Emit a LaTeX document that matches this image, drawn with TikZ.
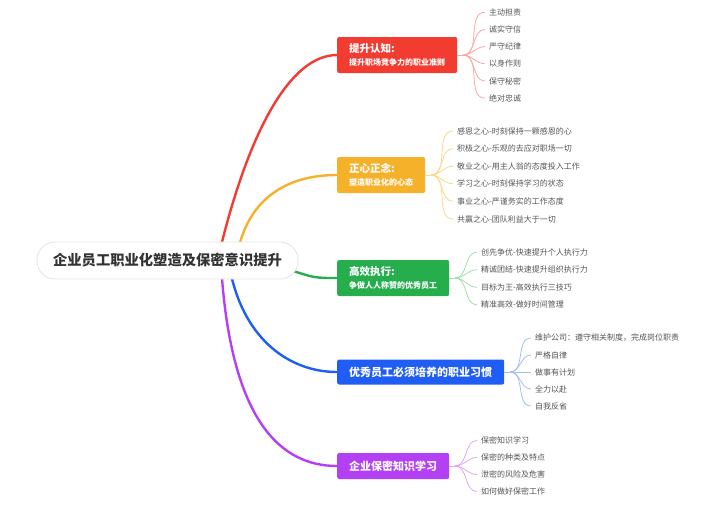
\documentclass[tikz,border=0pt]{standalone}
\usepackage{fontspec}
\setmainfont{Noto Sans CJK SC}
\usetikzlibrary{calc}

\definecolor{redtop}{HTML}{F23B31}
\definecolor{redleaf}{HTML}{F9A8A2}
\definecolor{orangetop}{HTML}{F5B12A}
\definecolor{orangeleaf}{HTML}{FAD98C}
\definecolor{greentop}{HTML}{26AD4C}
\definecolor{greenleaf}{HTML}{A2DDB0}
\definecolor{bluetop}{HTML}{1F5DF4}
\definecolor{blueleaf}{HTML}{A3BDF8}
\definecolor{purpletop}{HTML}{B440F3}
\definecolor{purpleleaf}{HTML}{DDA6F9}
\definecolor{rootline}{HTML}{E4E4E4}
\definecolor{rootfont}{HTML}{333333}
\definecolor{leaffont}{HTML}{555555}

\begin{document}
\begin{tikzpicture}[x=1pt,y=-1pt,
	rootbox/.style={draw=rootline, fill=white, line width=0.8pt, rounded corners=18pt, minimum width=261pt, minimum height=37pt, inner sep=0pt, text=rootfont, font=\fontsize{14.3}{16}\selectfont\bfseries},
	topic/.style={anchor=west, fill=#1, rounded corners=2pt, text=white, align=left, inner xsep=11pt, inner ysep=0pt},
	leaf/.style={anchor=west, inner xsep=4pt, inner ysep=1pt, text=leaffont, font=\fontsize{8}{10}\selectfont},
	mainline/.style={draw=#1, line width=2.4pt},
	leafline/.style={draw=#1, line width=0.8pt}]

		\useasboundingbox (0,0) rectangle (722,514);

		% topics
		\node [topic=redtop, minimum width=120pt, minimum height=36pt] (A) at (337,55) {{\fontsize{10.5}{12}\selectfont\bfseries 提升认知:}\\[1pt]{\fontsize{8}{10}\selectfont\bfseries 提升职场竞争力的职业准则}};
		\node [topic=orangetop, minimum width=88pt, minimum height=36pt] (B) at (337,175) {{\fontsize{10.5}{12}\selectfont\bfseries 正心正念:}\\[1pt]{\fontsize{8}{10}\selectfont\bfseries 塑造职业化的心态}};
		\node [topic=greentop, minimum width=112pt, minimum height=36pt] (C) at (337,278) {{\fontsize{10.5}{12}\selectfont\bfseries 高效执行:}\\[1pt]{\fontsize{8}{10}\selectfont\bfseries 争做人人称赞的优秀员工}};
		\node [topic=bluetop, minimum width=167pt, minimum height=25pt, font=\fontsize{11}{13}\selectfont\bfseries] (D) at (337,372) {优秀员工必须培养的职业习惯};
		\node [topic=purpletop, minimum width=112pt, minimum height=26pt, font=\fontsize{11}{13}\selectfont\bfseries] (E) at (337,466) {企业保密知识学习};

		\coordinate (JA) at (463,55);
		\coordinate (JB) at (431,175);
		\coordinate (JC) at (455,278);
		\coordinate (JD) at (510,372);
		\coordinate (JE) at (455,466);

		% leaves
		\node [leaf] (A1) at (485,12.2) {主动担责};
		\node [leaf] (A2) at (485,29.4) {诚实守信};
		\node [leaf] (A3) at (485,46.6) {严守纪律};
		\node [leaf] (A4) at (485,63.8) {以身作则};
		\node [leaf] (A5) at (485,81) {保守秘密};
		\node [leaf] (A6) at (485,98.2) {绝对忠诚};

		\node [leaf] (B1) at (453,131) {感恩之心-时刻保持一颗感恩的心};
		\node [leaf] (B2) at (453,148.6) {积极之心-乐观的去应对职场一切};
		\node [leaf] (B3) at (453,166.2) {敬业之心-用主人翁的态度投入工作};
		\node [leaf] (B4) at (453,183.8) {学习之心-时刻保持学习的状态};
		\node [leaf] (B5) at (453,201.4) {事业之心-严谨务实的工作态度};
		\node [leaf] (B6) at (453,219) {共赢之心-团队利益大于一切};

		\node [leaf] (C1) at (477,252.1) {创先争优-快速提升个人执行力};
		\node [leaf] (C2) at (477,269.7) {精诚团结-快速提升组织执行力};
		\node [leaf] (C3) at (477,287.3) {目标为王-高效执行三技巧};
		\node [leaf] (C4) at (477,304.9) {精准高效-做好时间管理};

		\node [leaf] (D1) at (531,338) {维护公司：遵守相关制度，完成岗位职责};
		\node [leaf] (D2) at (531,355) {严格自律};
		\node [leaf] (D3) at (531,372) {做事有计划};
		\node [leaf] (D4) at (531,389) {全力以赴};
		\node [leaf] (D5) at (531,406) {自我反省};

		\node [leaf] (E1) at (477,440.5) {保密知识学习};
		\node [leaf] (E2) at (477,457.5) {保密的种类及特点};
		\node [leaf] (E3) at (477,474.5) {泄密的风险及危害};
		\node [leaf] (E4) at (477,491.5) {如何做好保密工作};

		% main branches
		\draw [mainline=redtop] (220.5,248) .. controls (249,132) and (290,55) .. (A.west);
		\draw [mainline=orangetop] (238.6,248) .. controls (250,200) and (285,175) .. (B.west);
		\draw [mainline=greentop] (290,270) .. controls (315,278) .. (C.west);
		\draw [mainline=bluetop] (230.7,273) .. controls (245,340) and (290,372) .. (D.west);
		\draw [mainline=purpletop] (221.6,273) .. controls (232,420) and (280,466) .. (E.west);

		\node [rootbox] (O) at (167.5,260.5) {企业员工职业化塑造及保密意识提升};

		% leaf branches
		\draw [leafline=redleaf] (A.east) -- (JA);
		\draw [leafline=redleaf] (JA) to[out=0,in=180] (A1.west);
		\draw [leafline=redleaf] (JA) to[out=0,in=180] (A2.west);
		\draw [leafline=redleaf] (JA) to[out=0,in=180] (A3.west);
		\draw [leafline=redleaf] (JA) to[out=0,in=180] (A4.west);
		\draw [leafline=redleaf] (JA) to[out=0,in=180] (A5.west);
		\draw [leafline=redleaf] (JA) to[out=0,in=180] (A6.west);

		\draw [leafline=orangeleaf] (B.east) -- (JB);
		\draw [leafline=orangeleaf] (JB) to[out=0,in=180] (B1.west);
		\draw [leafline=orangeleaf] (JB) to[out=0,in=180] (B2.west);
		\draw [leafline=orangeleaf] (JB) to[out=0,in=180] (B3.west);
		\draw [leafline=orangeleaf] (JB) to[out=0,in=180] (B4.west);
		\draw [leafline=orangeleaf] (JB) to[out=0,in=180] (B5.west);
		\draw [leafline=orangeleaf] (JB) to[out=0,in=180] (B6.west);

		\draw [leafline=greenleaf] (C.east) -- (JC);
		\draw [leafline=greenleaf] (JC) to[out=0,in=180] (C1.west);
		\draw [leafline=greenleaf] (JC) to[out=0,in=180] (C2.west);
		\draw [leafline=greenleaf] (JC) to[out=0,in=180] (C3.west);
		\draw [leafline=greenleaf] (JC) to[out=0,in=180] (C4.west);

		\draw [leafline=blueleaf] (D.east) -- (JD);
		\draw [leafline=blueleaf] (JD) to[out=0,in=180] (D1.west);
		\draw [leafline=blueleaf] (JD) to[out=0,in=180] (D2.west);
		\draw [leafline=blueleaf] (JD) -- (D3.west);
		\draw [leafline=blueleaf] (JD) to[out=0,in=180] (D4.west);
		\draw [leafline=blueleaf] (JD) to[out=0,in=180] (D5.west);

		\draw [leafline=purpleleaf] (E.east) -- (JE);
		\draw [leafline=purpleleaf] (JE) to[out=0,in=180] (E1.west);
		\draw [leafline=purpleleaf] (JE) to[out=0,in=180] (E2.west);
		\draw [leafline=purpleleaf] (JE) to[out=0,in=180] (E3.west);
		\draw [leafline=purpleleaf] (JE) to[out=0,in=180] (E4.west);

\end{tikzpicture}
\end{document}
